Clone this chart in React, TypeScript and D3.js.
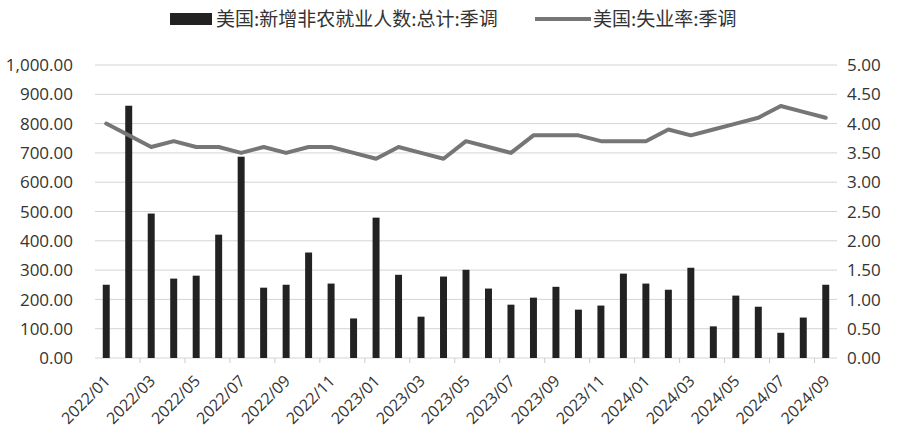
import React from "react";
import * as d3 from "d3";

const months = [
  "2022/01","2022/02","2022/03","2022/04","2022/05","2022/06","2022/07","2022/08","2022/09","2022/10","2022/11","2022/12",
  "2023/01","2023/02","2023/03","2023/04","2023/05","2023/06","2023/07","2023/08","2023/09","2023/10","2023/11","2023/12",
  "2024/01","2024/02","2024/03","2024/04","2024/05","2024/06","2024/07","2024/08","2024/09",
];
const payrolls = [
  250, 861, 493, 271, 281, 421, 687, 240, 250, 360, 254, 135,
  479, 284, 141, 278, 301, 237, 182, 206, 243, 165, 179, 288,
  254, 233, 308, 108, 213, 175, 86, 138, 250,
];
const unemployment = [
  4.0, 3.8, 3.6, 3.7, 3.6, 3.6, 3.5, 3.6, 3.5, 3.6, 3.6, 3.5,
  3.4, 3.6, 3.5, 3.4, 3.7, 3.6, 3.5, 3.8, 3.8, 3.8, 3.7, 3.7,
  3.7, 3.9, 3.8, 3.9, 4.0, 4.1, 4.3, 4.2, 4.1,
];
const leftTicks = [0, 100, 200, 300, 400, 500, 600, 700, 800, 900, 1000];
const rightTicks = [0, 0.5, 1, 1.5, 2, 2.5, 3, 3.5, 4, 4.5, 5];
const seriesNames = ["美国:新增非农就业人数:总计:季调", "美国:失业率:季调"];

const W = 900, H = 438;
const plot = { left: 95, right: 837, top: 65, bottom: 358 };
const font = "'Open Sans', 'Noto Sans CJK SC', sans-serif";
const cjkFont = "'Noto Sans CJK SC', sans-serif";

export default function App() {
  const x = d3.scaleBand<string>().domain(months).range([plot.left, plot.right]);
  const yL = d3.scaleLinear().domain([0, 1000]).range([plot.bottom, plot.top]);
  const yR = d3.scaleLinear().domain([0, 5]).range([plot.bottom, plot.top]);
  const bw = x.bandwidth() * 0.31;
  const cx = (m: string) => (x(m) as number) + x.bandwidth() / 2;
  const line = d3.line<number>().x((_, i) => cx(months[i])).y((d) => yR(d));
  const fmtL = d3.format(",.2f");
  const fmtR = d3.format(".2f");

  return (
    <>
      <style>{"body{margin:0}"}</style>
      <svg width={W} height={H} style={{ display: "block", background: "#fff" }}>
        {leftTicks.map((t) => (
          <line key={"g" + t} x1={plot.left} x2={plot.right} y1={yL(t)} y2={yL(t)} stroke="#d4d4d4" strokeWidth={1} />
        ))}
        {leftTicks.map((t) => (
          <text key={"l" + t} x={73} y={yL(t)} dy="0.36em" textAnchor="end" fontFamily={font} fontSize={17} fill="#333">
            {fmtL(t)}
          </text>
        ))}
        {rightTicks.map((t) => (
          <text key={"r" + t} x={847} y={yR(t)} dy="0.36em" textAnchor="start" fontFamily={font} fontSize={17} fill="#333">
            {fmtR(t)}
          </text>
        ))}
        {payrolls.map((v, i) => (
          <rect key={"b" + i} x={cx(months[i]) - bw / 2} y={yL(v)} width={bw} height={yL(0) - yL(v)} fill="#222" />
        ))}
        {months.map((m, i) =>
          i > 0 && i % 2 === 0 ? (
            <line key={"t" + i} x1={x(m) as number} x2={x(m) as number} y1={plot.bottom} y2={plot.bottom + 5} stroke="#ccc" />
          ) : null
        )}
        <path d={line(unemployment) || ""} fill="none" stroke="#767676" strokeWidth={4} strokeLinejoin="round" strokeLinecap="round" />
        {months.map((m, i) =>
          i % 2 === 0 ? (
            <text
              key={"x" + i}
              transform={`translate(${cx(m) + 5},${plot.bottom + 24}) rotate(-45)`}
              textAnchor="end"
              fontFamily={font}
              fontSize={16}
              fill="#333"
            >
              {m}
            </text>
          ) : null
        )}
        <rect x={170} y={13} width={42} height={12} fill="#222" />
        <text x={216} y={19} dy="0.36em" fontFamily={cjkFont} fontSize={19} fill="#333">{seriesNames[0]}</text>
        <line x1={535} x2={591} y1={19} y2={19} stroke="#767676" strokeWidth={4} />
        <text x={593} y={19} dy="0.36em" fontFamily={cjkFont} fontSize={19} fill="#333">{seriesNames[1]}</text>
      </svg>
    </>
  );
}
